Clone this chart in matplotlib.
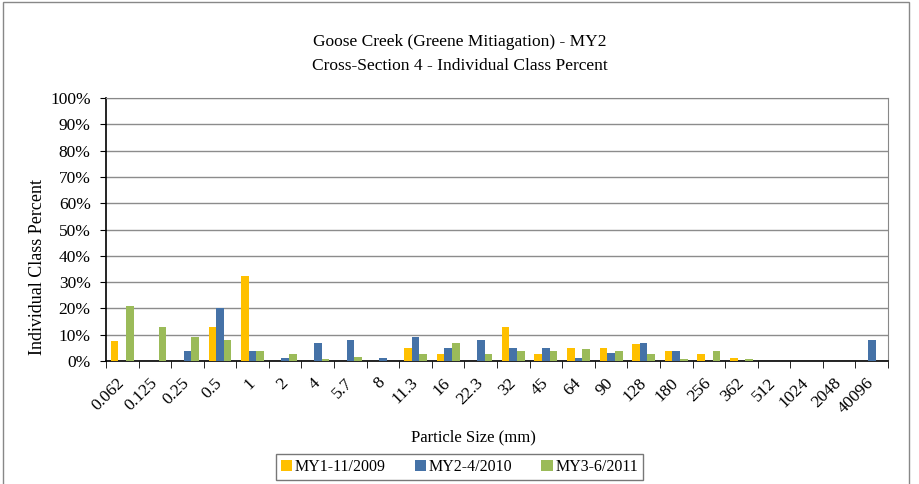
import matplotlib.pyplot as plt
import numpy as np
from matplotlib.patches import Rectangle

plt.rcParams['font.family'] = ['Liberation Serif', 'DejaVu Serif']

sizes = ['0.062', '0.125', '0.25', '0.5', '1', '2', '4', '5.7', '8', '11.3', '16', '22.3',
         '32', '45', '64', '90', '128', '180', '256', '362', '512', '1024', '2048', '40096']
my1 = [7.7, 0, 0, 13, 32.3, 0, 0, 0, 0, 5, 2.5, 0, 13, 2.5, 5, 5, 6.5, 4, 2.5, 1.2, 0, 0, 0, 0]
my2 = [0, 0, 4, 20, 4, 1, 7, 8, 1, 9, 5, 8, 5, 5, 1, 3, 7, 4, 0, 0, 0, 0, 0, 8]
my3 = [21, 13, 9, 8, 3.7, 2.7, 0.8, 1.6, 0, 2.7, 6.7, 2.7, 3.7, 3.7, 4.7, 3.7, 2.7, 0.8, 3.7, 0.8, 0, 0, 0, 0]
series = [('MY1-11/2009', my1, '#FFC000'),
          ('MY2-4/2010', my2, '#4572A7'),
          ('MY3-6/2011', my3, '#9BBB59')]

fig = plt.figure(figsize=(9.19, 4.84), dpi=100)
fig.patches.append(Rectangle((0.003, -0.01), 0.986, 1.005, transform=fig.transFigure,
                             fill=False, edgecolor='#888888', lw=1))
ax = fig.add_axes([0.1153, 0.254, 0.851, 0.5435])

x = np.arange(len(sizes))
w = 0.235
for i, (name, vals, col) in enumerate(series):
    ax.bar(x + (i - 1) * w, vals, w, color=col, label=name, zorder=3)

ax.set_xlim(-0.5, len(sizes) - 0.5)
ax.set_ylim(0, 100)
ax.set_yticks(np.arange(0, 101, 10))
ax.set_yticklabels([f'{v}%' for v in range(0, 101, 10)], fontsize=12.5)
ax.yaxis.grid(True, color='#8c8c8c', lw=1, zorder=0)
ax.set_xticks(x)
ax.set_xticklabels(sizes, rotation=45, ha='right', va='center', rotation_mode='anchor', fontsize=12.5)
ax.set_xticks(np.arange(-0.5, len(sizes), 1), minor=True)
ax.tick_params(axis='x', which='major', length=0, pad=14)
ax.tick_params(axis='x', which='minor', length=5, direction='out')
ax.tick_params(axis='y', length=4, direction='out', pad=7)
for s in ['top', 'right']:
    ax.spines[s].set_color('#888888')
for s in ['left', 'bottom']:
    ax.spines[s].set_color('black')
    ax.spines[s].set_linewidth(1.2)

ax.set_ylabel('Individual Class Percent', fontsize=13)
ax.yaxis.set_label_coords(-0.077, 0.357)
ax.set_xlabel('Particle Size (mm)', fontsize=12)
ax.xaxis.set_label_coords(0.47, -0.258)
fig.text(0.5, 0.913, 'Goose Creek (Greene Mitiagation) - MY2', ha='center', va='center', fontsize=12.5)
fig.text(0.5, 0.864, 'Cross-Section 4 - Individual Class Percent', ha='center', va='center', fontsize=12.5)

leg = fig.legend(loc='center', bbox_to_anchor=(0.5, 0.035), ncol=3, fontsize=11.5,
                 fancybox=False, edgecolor='#555555', handlelength=0.7, handleheight=0.7,
                 handletextpad=0.2, columnspacing=1.8, borderpad=0.3)
leg.get_frame().set_linewidth(1)

fig.savefig('out.png', dpi=100)
